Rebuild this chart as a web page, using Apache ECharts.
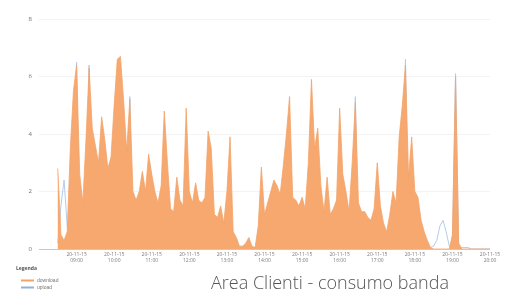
<!DOCTYPE html>
<html lang="it">
<head>
    <meta charset="UTF-8">
    <script src="https://cdn.jsdelivr.net/npm/echarts@6/dist/echarts.min.js"></script>
    <title>Area Clienti - consumo banda</title>
</head>
<body style="margin:0;background:#fff;">
    <div id="main" style="width:509px;height:297px;"></div>
    <script>
        // samples every 5 minutes starting at 08:30 (hours as decimal)
        var startHour = 8.5;
        var stepMin = 5;
        var download = [
            2.8, 0.5, 0.3, 0.6, 3.5, 5.5, 6.4, 2.6, 1.6, 3.8,
            6.3, 4.2, 3.6, 3.0, 4.6, 3.8, 2.8, 3.2, 5.0, 6.6,
            6.7, 5.2, 3.4, 5.2, 2.0, 1.7, 2.0, 2.7, 2.0, 3.3,
            2.6, 2.0, 1.6, 2.2, 4.8, 3.0, 1.4, 1.3, 2.5, 1.7,
            1.5, 4.9, 2.0, 1.6, 2.3, 1.7, 1.6, 1.8, 4.1, 3.5,
            1.2, 1.1, 1.5, 0.9, 2.0, 3.9, 0.6, 0.4, 0.1, 0.1,
            0.2, 0.4, 0.1, 0.05, 0.8, 2.85, 1.2, 1.6, 2.0, 2.4,
            2.2, 1.9, 2.9, 4.0, 5.3, 1.8, 1.7, 1.5, 1.8, 1.4,
            3.0, 5.9, 3.5, 4.2, 2.2, 1.3, 2.5, 1.2, 1.4, 1.7,
            4.9, 2.6, 2.0, 1.3, 3.0, 5.1, 1.6, 1.3, 1.3, 1.1,
            1.0, 1.4, 3.0, 1.5, 0.9, 0.6, 1.2, 2.0, 1.6, 3.9,
            5.0, 6.4, 2.5, 3.9, 2.0, 1.8, 1.0, 0.6, 0.3, 0.05,
            0, 0, 0, 0, 0, 0, 0.5, 6.0, 0.2, 0,
            0, 0, 0, 0, 0, 0, 0, 0, 0
        ];
        var upload = [
            0.2, 1.5, 2.4, 0.8, 0.3, 0.3, 6.5, 0.3, 0.2, 0.3,
            6.4, 0.3, 0.2, 0.2, 0.3, 0.2, 0.2, 0.2, 0.3, 0.3,
            0.3, 0.2, 0.2, 5.3, 0.2, 0.2, 0.2, 0.2, 0.2, 0.2,
            0.2, 0.2, 0.2, 0.2, 0.2, 0.2, 0.2, 0.2, 0.2, 0.2,
            0.2, 0.2, 0.2, 0.2, 0.2, 0.2, 0.2, 0.2, 0.2, 0.2,
            0.2, 0.2, 0.2, 0.2, 0.2, 0.2, 0.1, 0.1, 0.05, 0.05,
            0.05, 0.1, 0.05, 0.05, 0.1, 0.2, 0.2, 0.2, 0.2, 0.2,
            0.2, 0.2, 0.2, 0.2, 0.2, 0.2, 0.2, 0.2, 0.2, 0.2,
            0.2, 0.2, 0.2, 0.2, 0.2, 0.2, 0.2, 0.2, 0.2, 0.2,
            0.2, 0.2, 0.2, 0.2, 0.2, 5.3, 0.2, 0.2, 0.2, 0.2,
            0.2, 0.2, 0.2, 0.2, 0.2, 0.2, 0.2, 0.2, 0.2, 0.2,
            0.2, 6.6, 0.2, 0.2, 0.2, 0.2, 0.1, 0.1, 0.05, 0.05,
            0.1, 0.3, 0.8, 1.0, 0.6, 0.1, 0.1, 6.1, 0.1, 0.05,
            0.05, 0.05, 0, 0, 0, 0, 0, 0, 0
        ];
        var datePrefix = '20-11-15';
        var yTicks = [0, 2, 4, 6, 8];

        var times = download.map(function (v, i) { return startHour + i * stepMin / 60; });
        function pairs(arr) { return arr.map(function (v, i) { return [times[i], v]; }); }
        function pad(n) { return (n < 10 ? '0' : '') + n; }

        var chart = echarts.init(document.getElementById('main'));
        chart.setOption({
            animation: false,
            backgroundColor: '#fff',
            grid: { left: 39, right: 19, top: 19, bottom: 48 },
            xAxis: {
                type: 'value',
                min: 8, max: 20, interval: 1,
                axisLine: { show: false },
                axisTick: { show: false },
                splitLine: { show: false },
                axisLabel: {
                    showMinLabel: false,
                    fontSize: 5, color: '#7a7a7a', lineHeight: 6, margin: 3,
                    fontFamily: 'Open Sans',
                    formatter: function (v) { return datePrefix + '\n' + pad(v) + ':00'; }
                }
            },
            yAxis: {
                type: 'value',
                min: yTicks[0], max: yTicks[yTicks.length - 1], interval: 2,
                axisLine: { show: false },
                axisTick: { show: false },
                splitLine: { lineStyle: { color: '#f3f3f3', width: 1 } },
                axisLabel: { fontSize: 6, color: '#6f6f6f', margin: 7, fontFamily: 'Open Sans' }
            },
            legend: {
                orient: 'vertical', left: 16, top: 273,
                itemWidth: 13, itemHeight: 2, itemGap: 2,
                icon: 'rect',
                textStyle: { fontSize: 5, color: '#777', padding: [0, 0, 0, -2] },
                data: ['download', 'upload']
            },
            graphic: [
                { type: 'text', left: 16, top: 266, style: { text: 'Legenda', fontSize: 5, fontWeight: 'bold', fill: '#555', fontFamily: 'Open Sans' } },
                { type: 'line', shape: { x1: 39, y1: 249.5, x2: 490, y2: 249.5 }, style: { stroke: '#c8c8c8', lineWidth: 1 }, z: 10 },
                { type: 'text', x: 211, y: 284, style: { text: 'Area Clienti - consumo banda', fontSize: 18, fontWeight: 300, fill: '#555', fontFamily: 'Open Sans', textVerticalAlign: 'middle' } }
            ],
            series: [
                {
                    name: 'upload', type: 'line', data: pairs(upload),
                    symbol: 'none', z: 1,
                    lineStyle: { color: '#b4cce9', width: 1 },
                    itemStyle: { color: '#8fb2df' }
                },
                {
                    name: 'download', type: 'line', data: pairs(download),
                    symbol: 'none', z: 2,
                    lineStyle: { color: '#f4a36a', width: 0.8 },
                    areaStyle: { color: '#f6a86f', opacity: 1 },
                    itemStyle: { color: '#f4a36a' }
                }
            ]
        });
    </script>
</body>
</html>
